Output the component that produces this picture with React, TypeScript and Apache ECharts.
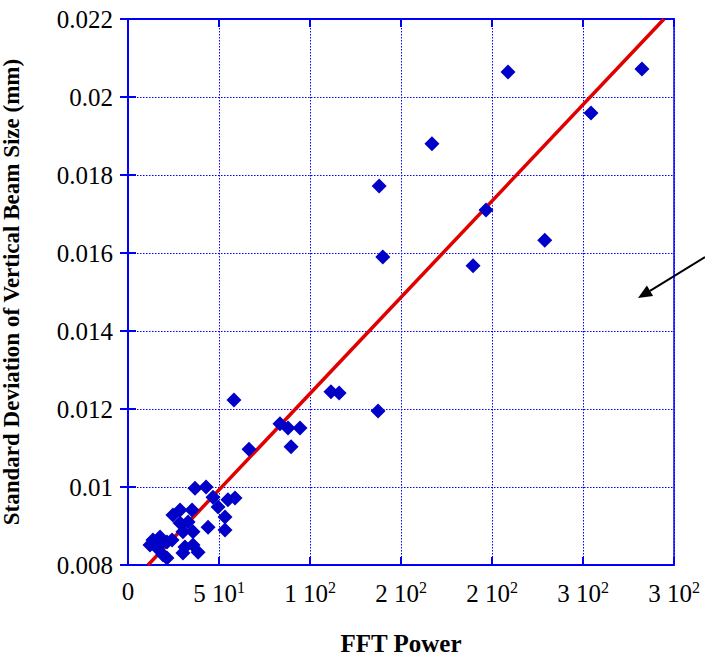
import React, { useEffect, useRef } from "react";
import * as echarts from "echarts";

const pointsX = [
  58.2, 66.5, 83.5, 87.9, 94.5, 89.6,
  167, 138, 196.7, 229, 140, 189.6, 111.5, 116, 137.4,
  208.8, 282.4, 254.4,
  36.8, 42.9, 46.7, 54.9, 58.8, 49.5, 53.3, 44.0, 53.3,
  24.7, 28.6, 35.2, 33.0, 28.6, 35.7, 30.2, 24.2, 13.7, 17.6, 21.4,
  12.1, 15.9, 19.2, 21.4, 31.3, 35.7, 30.2, 38.5, 17.6,
];
const pointsY = [
  0.01223, 0.01097, 0.01162, 0.01151, 0.01151, 0.01103,
  0.0188, 0.01772, 0.0171, 0.01633, 0.0159, 0.01567, 0.01244, 0.01241, 0.01195,
  0.02064, 0.02072, 0.01959,
  0.00997, 0.01, 0.00974, 0.00967, 0.00972, 0.00949, 0.00923, 0.00897, 0.0089,
  0.00928, 0.00941, 0.00941, 0.0091, 0.00908, 0.00885, 0.00885, 0.00864, 0.00864, 0.00872, 0.00859,
  0.00851, 0.00844, 0.00826, 0.00818, 0.00846, 0.00851, 0.00831, 0.00833, 0.00854,
];
const fitX = [11, 294.5];
const fitY = [0.008, 0.022];

const xTickValues = [0, 50, 100, 150, 200, 250, 300];
const xTickLabels = ["0", "5 10{s|1}", "1 10{s|2}", "2 10{s|2}", "2 10{s|2}", "3 10{s|2}", "3 10{s|2}"];

const xTitle = "FFT Power";
const yTitle = "Standard Deviation of Vertical Beam Size (mm)";

const FONT = "Liberation Serif";
const BLUE = "#0000ff";

export default function App() {
  const ref = useRef<HTMLDivElement>(null);
  useEffect(() => {
    if (!ref.current) return;
    const chart = echarts.init(ref.current, null, { renderer: "svg" });
    const scatter = pointsX.map((x, i) => [x, pointsY[i]]);
    const fit = fitX.map((x, i) => [x, fitY[i]]);
    const labelFmt = (v: number) => {
      const i = xTickValues.indexOf(Math.round(v));
      return i >= 0 ? xTickLabels[i] : "";
    };
    chart.setOption({
      animation: false,
      backgroundColor: "#ffffff",
      textStyle: { fontFamily: FONT },
      grid: {
        left: 128,
        top: 19,
        right: 31,
        bottom: 93,
        outerBoundsMode: "none",
        show: true,
        borderColor: BLUE,
        borderWidth: 1.5,
      },
      xAxis: [
        {
          type: "value",
          min: 0,
          max: 300,
          interval: 50,
          name: xTitle,
          nameLocation: "middle",
          nameGap: 66,
          nameTextStyle: { fontFamily: FONT, fontSize: 25, fontWeight: "bold", color: "#000" },
          axisLine: { lineStyle: { color: BLUE, width: 2 } },
          axisTick: { inside: true, length: 8, lineStyle: { color: BLUE, width: 2 } },
          axisLabel: {
            margin: 14,
            formatter: labelFmt,
            fontFamily: FONT,
            fontSize: 25,
            color: "#000",
            rich: {
              s: { fontFamily: FONT, fontSize: 16, color: "#000", verticalAlign: "top", padding: [0, 0, 12, 0] },
            },
          },
          splitLine: { show: true, lineStyle: { color: BLUE, type: [1.5, 1.5], width: 1 } },
        },
        {
          type: "value",
          position: "top",
          min: 0,
          max: 300,
          interval: 50,
          axisLine: { show: true, lineStyle: { color: BLUE, width: 2 } },
          axisTick: { show: true, inside: true, length: 8, lineStyle: { color: BLUE, width: 2 } },
          axisLabel: { show: false },
          splitLine: { show: false },
        },
      ],
      yAxis: [
        {
          type: "value",
          min: 0.008,
          max: 0.022,
          interval: 0.002,
          name: yTitle,
          nameLocation: "middle",
          nameGap: 105,
          nameTextStyle: { fontFamily: FONT, fontSize: 23, fontWeight: "bold", color: "#000" },
          axisLine: { lineStyle: { color: BLUE, width: 2 } },
          axisTick: { inside: true, length: 8, lineStyle: { color: BLUE, width: 2 } },
          axisLabel: {
            margin: 15,
            fontFamily: FONT,
            fontSize: 25,
            color: "#000",
          },
          splitLine: { show: true, lineStyle: { color: BLUE, type: [1.5, 1.5], width: 1 } },
        },
        {
          type: "value",
          position: "right",
          min: 0.008,
          max: 0.022,
          interval: 0.002,
          axisLine: { show: true, lineStyle: { color: BLUE, width: 2 } },
          axisTick: { show: true, inside: true, length: 8, lineStyle: { color: BLUE, width: 2 } },
          axisLabel: { show: false },
          splitLine: { show: false },
        },
      ],
      series: [
        {
          type: "line",
          data: fit,
          symbol: "none",
          lineStyle: { color: "#e00000", width: 3.5 },
          z: 3,
        },
        {
          type: "scatter",
          data: scatter,
          symbol: "diamond",
          symbolSize: 15,
          itemStyle: { color: "#0000c8", opacity: 1 },
          z: 4,
        },
      ],
      graphic: [
        {
          type: "line",
          shape: { x1: 705, y1: 257, x2: 650, y2: 290.8 },
          style: { stroke: "#000", lineWidth: 2 },
        },
        {
          type: "polygon",
          shape: { points: [[638, 298], [653.1, 296], [646.9, 285.6]] },
          style: { fill: "#000" },
        },
      ],
    });
    return () => chart.dispose();
  }, []);
  return <div ref={ref} style={{ width: 705, height: 658, position: "absolute", left: 0, top: 0 }} />;
}
